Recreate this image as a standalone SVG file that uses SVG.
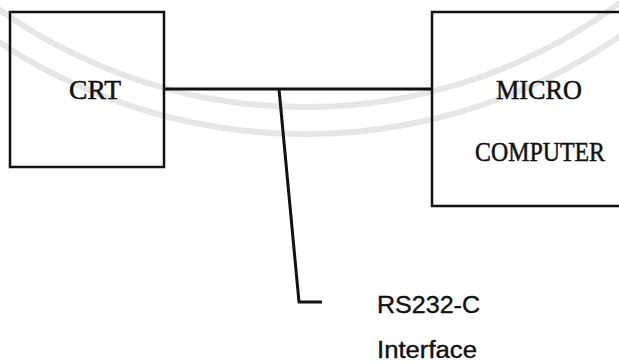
<svg xmlns="http://www.w3.org/2000/svg" width="619" height="364" viewBox="0 0 619 364">
<style>
.box{fill:none;stroke:#111;stroke-width:2.5}
.wire{fill:none;stroke:#111;stroke-width:3}
.serif{font-family:"Liberation Serif","Times New Roman",serif;font-size:27px;fill:#111;stroke:#111;stroke-width:0.5}
.sans{font-family:"Liberation Sans",Arial,sans-serif;font-size:23px;fill:#111;stroke:#111;stroke-width:0.4}
.wm{fill:none;stroke:#e6e6e6;stroke-width:6}
</style>
<rect width="619" height="364" fill="#fff"/>
<g id="watermark">
<circle class="wm" cx="305" cy="-421" r="528"/>
<circle class="wm" cx="305" cy="-421" r="555"/>
</g>
<g id="connectors">
<line class="wire" x1="164" y1="89" x2="432" y2="89"/>
<polyline class="wire" points="279,89 299,302 322,302"/>
</g>
<g id="crt">
<rect class="box" x="10" y="12" width="154" height="155"/>
<text class="serif" x="95" y="99" text-anchor="middle" textLength="52" lengthAdjust="spacingAndGlyphs">CRT</text>
</g>
<g id="micro">
<path class="box" d="M621,12 H432 V206 H621"/>
<text class="serif" x="539" y="99" text-anchor="middle" textLength="86" lengthAdjust="spacingAndGlyphs">MICRO</text>
<text class="serif" x="540" y="161" text-anchor="middle" textLength="130" lengthAdjust="spacingAndGlyphs">COMPUTER</text>
</g>
<g id="label">
<text class="sans" x="377" y="313" textLength="103" lengthAdjust="spacingAndGlyphs">RS232-C</text>
<text class="sans" x="377" y="358" textLength="100" lengthAdjust="spacingAndGlyphs">Interface</text>
</g>
</svg>
